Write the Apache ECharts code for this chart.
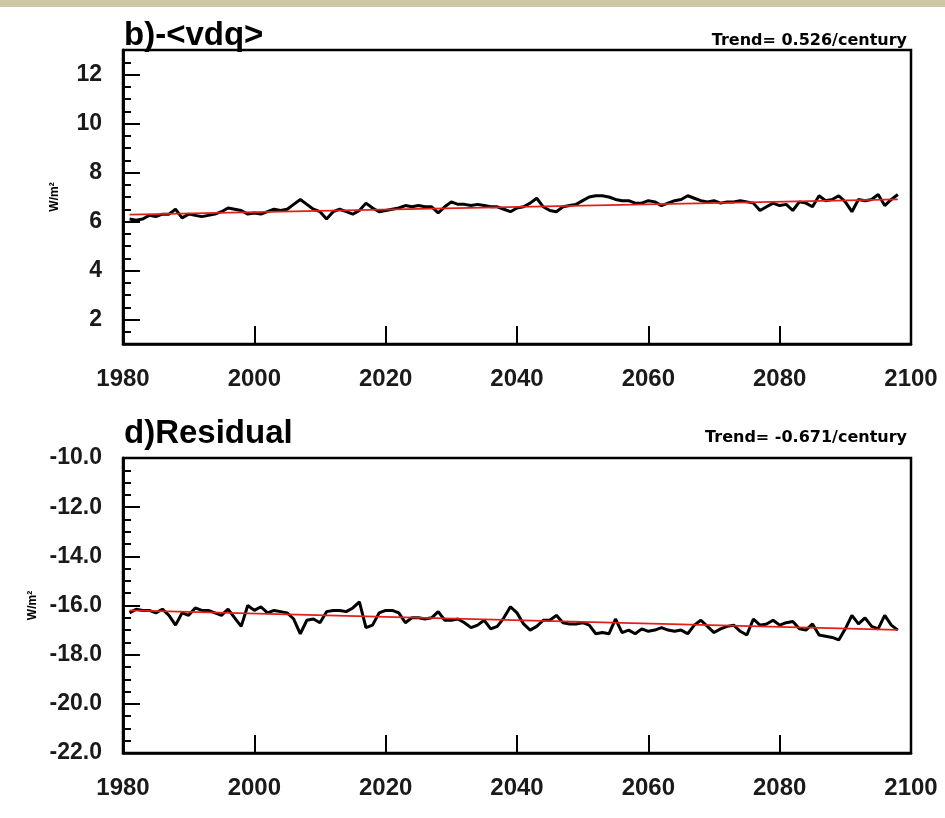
<!DOCTYPE html>
<html><head><meta charset="utf-8">
<script src="https://cdn.jsdelivr.net/npm/echarts@6/dist/echarts.min.js"></script>
<style>html,body{margin:0;padding:0;background:#fff}#c{width:945px;height:818px}</style>
</head><body><div id="c"></div>
<script>
const firstYear = 1981;
const vdq = [
 6.10,6.05,6.10,6.25,6.20,6.30,6.30,6.50,6.15,6.30,
 6.25,6.20,6.25,6.30,6.40,6.55,6.50,6.45,6.30,6.35,
 6.30,6.40,6.50,6.45,6.50,6.70,6.90,6.70,6.50,6.40,
 6.10,6.40,6.50,6.40,6.30,6.45,6.75,6.55,6.40,6.45,
 6.50,6.55,6.65,6.60,6.65,6.60,6.60,6.35,6.60,6.80,
 6.70,6.70,6.65,6.70,6.65,6.60,6.60,6.50,6.40,6.55,
 6.60,6.75,6.95,6.60,6.45,6.40,6.60,6.65,6.70,6.85,
 7.00,7.05,7.05,7.00,6.90,6.85,6.85,6.75,6.75,6.85,
 6.80,6.65,6.75,6.85,6.90,7.05,6.95,6.85,6.80,6.85,
 6.75,6.80,6.80,6.85,6.80,6.75,6.45,6.60,6.75,6.65,
 6.70,6.45,6.80,6.75,6.60,7.05,6.85,6.90,7.05,6.80,
 6.40,6.90,6.85,6.90,7.10,6.65,6.90,7.10
];
const residual = [
 -16.30,-16.15,-16.20,-16.20,-16.30,-16.15,-16.40,-16.80,-16.30,-16.40,
 -16.10,-16.20,-16.20,-16.30,-16.40,-16.15,-16.50,-16.85,-16.00,-16.20,
 -16.05,-16.30,-16.20,-16.25,-16.30,-16.55,-17.15,-16.60,-16.55,-16.70,
 -16.25,-16.20,-16.20,-16.25,-16.10,-15.85,-16.90,-16.80,-16.30,-16.20,
 -16.20,-16.30,-16.70,-16.50,-16.50,-16.55,-16.50,-16.25,-16.60,-16.60,
 -16.55,-16.70,-16.90,-16.80,-16.60,-16.95,-16.85,-16.50,-16.05,-16.30,
 -16.75,-17.00,-16.85,-16.60,-16.60,-16.40,-16.70,-16.75,-16.75,-16.70,
 -16.80,-17.15,-17.10,-17.15,-16.55,-17.10,-17.00,-17.15,-16.95,-17.05,
 -17.00,-16.90,-17.00,-17.05,-17.00,-17.15,-16.80,-16.60,-16.85,-17.10,
 -16.95,-16.85,-16.80,-17.05,-17.20,-16.55,-16.80,-16.75,-16.60,-16.80,
 -16.70,-16.65,-16.95,-17.00,-16.75,-17.20,-17.25,-17.30,-17.40,-16.95,
 -16.40,-16.75,-16.50,-16.85,-16.95,-16.40,-16.80,-17.00
];
const vdqTrend = [[1981, 6.28], [2098, 6.90]];
const resTrend = [[1981, -16.20], [2098, -16.99]];
const vdqTicks = [2, 4, 6, 8, 10, 12];
const resTicks = [-22, -20, -18, -16, -14, -12, -10];
const titles = ['b)-<vdq>', 'd)Residual'];
const trendTexts = ['Trend= 0.526/century', 'Trend= -0.671/century'];

const FF = '"Liberation Sans", Arial, sans-serif';
const pairs = arr => arr.map((v, i) => [firstYear + i, v]);

function xAxis(gi) {
  return {
    gridIndex: gi, type: 'value', min: 1980, max: 2100, interval: 20,
    axisLine: { show: true, lineStyle: { color: '#000', width: 2.5 } },
    axisTick: { show: true, inside: true, length: 18, lineStyle: { color: '#000', width: 2 } },
    axisLabel: { margin: 23, color: '#1a1a1a', fontFamily: FF, fontWeight: 'bold', fontSize: 24, formatter: v => String(v) },
    splitLine: { show: false }
  };
}
function yMinor(gi, min, max) {
  return {
    gridIndex: gi, type: 'value', position: 'left', min: min, max: max, interval: 0.5,
    axisLine: { show: true, lineStyle: { color: '#000', width: 2.5 } },
    axisTick: { show: true, inside: true, length: 8, lineStyle: { color: '#000', width: 2 } },
    axisLabel: { show: false }, splitLine: { show: false }
  };
}
function yMajor(gi, min, max, ticks, fmt) {
  return {
    gridIndex: gi, type: 'value', position: 'left', min: min, max: max,
    name: 'W/m²', nameLocation: 'middle', nameGap: 62,
    nameTextStyle: { color: '#000', fontFamily: FF, fontWeight: 'bold', fontSize: 12 },
    axisLine: { show: true, lineStyle: { color: '#000', width: 2.5 } },
    axisTick: { show: true, inside: true, length: 17, customValues: ticks, lineStyle: { color: '#000', width: 2 } },
    axisLabel: { customValues: ticks, margin: 21, color: '#1a1a1a', fontFamily: FF, fontWeight: 'bold', fontSize: 23, formatter: fmt },
    splitLine: { show: false }
  };
}

const chart = echarts.init(document.getElementById('c'), null, { renderer: 'canvas' });
chart.setOption({
  backgroundColor: '#fff',
  animation: false,
  title: [
    { text: titles[0], left: 119, top: 14, textStyle: { fontFamily: FF, fontWeight: 'bold', fontSize: 33, color: '#000' } },
    { text: trendTexts[0], right: 33, top: 28, textStyle: { fontFamily: '"DejaVu Sans"', fontWeight: 'bold', fontSize: 16, color: '#000' } },
    { text: titles[1], left: 119, top: 412, textStyle: { fontFamily: FF, fontWeight: 'bold', fontSize: 33, color: '#000' } },
    { text: trendTexts[1], right: 33, top: 425, textStyle: { fontFamily: '"DejaVu Sans"', fontWeight: 'bold', fontSize: 16, color: '#000' } }
  ],
  grid: [
    { left: 123, top: 50, width: 788, height: 294, show: true, borderColor: '#000', borderWidth: 2.5, backgroundColor: '#fff' },
    { left: 123, top: 458, width: 788, height: 295, show: true, borderColor: '#000', borderWidth: 2.5, backgroundColor: '#fff' }
  ],
  xAxis: [xAxis(0), xAxis(1)],
  yAxis: [
    yMinor(0, 1, 13),
    yMajor(0, 1, 13, vdqTicks, v => String(v)),
    yMinor(1, -22, -10),
    yMajor(1, -22, -10, resTicks, v => Number(v).toFixed(1))
  ],
  series: [
    { type: 'line', xAxisIndex: 0, yAxisIndex: 1, data: pairs(vdq), showSymbol: false, lineStyle: { color: '#000', width: 3 }, z: 2 },
    { type: 'line', xAxisIndex: 0, yAxisIndex: 1, data: vdqTrend, showSymbol: false, lineStyle: { color: '#e0201c', width: 1.8 }, z: 3 },
    { type: 'line', xAxisIndex: 1, yAxisIndex: 3, data: pairs(residual), showSymbol: false, lineStyle: { color: '#000', width: 3 }, z: 2 },
    { type: 'line', xAxisIndex: 1, yAxisIndex: 3, data: resTrend, showSymbol: false, lineStyle: { color: '#e0201c', width: 1.8 }, z: 3 }
  ],
  graphic: [
    { type: 'rect', left: 0, top: 0, shape: { width: 945, height: 7 }, style: { fill: '#cdc7a5' }, z: 10 },
    { type: 'text', left: -14, top: 364, style: { text: '0', font: 'bold 24px "Liberation Sans"', fill: '#1a1a1a' } },
    { type: 'text', left: -14, top: 770, style: { text: '0', font: 'bold 24px "Liberation Sans"', fill: '#1a1a1a' } }
  ]
});
</script>
</body></html>
